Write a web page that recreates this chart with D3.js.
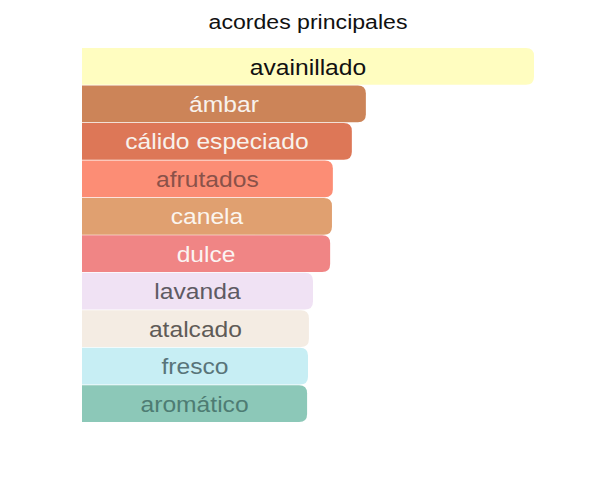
<!DOCTYPE html>
<html>
<head>
<meta charset="utf-8">
<script src="https://cdn.jsdelivr.net/npm/d3@7"></script>
<style>
  body { margin: 0; background: #fff; }
  svg { display: block; font-family: "Liberation Sans", Arial, sans-serif; }
</style>
</head>
<body>
<div id="chart"></div>
<script>
// acordes, de mayor a menor
var acordes = ["avainillado", "ámbar", "cálido especiado", "afrutados", "canela",
               "dulce", "lavanda", "atalcado", "fresco", "aromático"];
var valores = [100, 62.8, 59.7, 55.5, 55.3, 54.9, 51.1, 50.2, 50, 49.8];
var colores = ["#FFFDC0", "#CC8458", "#DD7757", "#FC8D75", "#E0A070",
               "#F08585", "#F0E2F4", "#F4ECE3", "#C7EEF4", "#8CC8B8"];
var coloresTexto = ["#111", "#f8f2ec", "#f8f2ec", "#8a5249", "#fbf5ee",
                    "#fbf4f2", "#5e5a63", "#5f5b57", "#587479", "#4e7c73"];

var w = 609, h = 483;
var stretch = 1.12; // el texto de la imagen está algo ensanchado

var svg = d3.select("#chart").append("svg")
    .attr("width", w)
    .attr("height", h);

var xScale = d3.scaleLinear().domain([0, 100]).range([82, 534]);
var yScale = d3.scaleBand().domain(acordes).range([48, 422]).paddingInner(0.02);

svg.append("text")
    .attr("transform", "translate(308,29) scale(1.1,1)")
    .attr("text-anchor", "middle")
    .attr("font-size", 21)
    .attr("fill", "#111")
    .text("acordes principales");

// barra con esquinas derechas redondeadas
function barPath(x0, x1, y0, bh, r) {
    return "M" + x0 + "," + y0 +
        "H" + (x1 - r) +
        "Q" + x1 + "," + y0 + " " + x1 + "," + (y0 + r) +
        "V" + (y0 + bh - r) +
        "Q" + x1 + "," + (y0 + bh) + " " + (x1 - r) + "," + (y0 + bh) +
        "H" + x0 + "Z";
}

var g = svg.selectAll("g.bar")
    .data(acordes)
    .enter()
    .append("g")
    .attr("class", "bar");

g.append("path")
    .attr("d", function(d, i) {
        return barPath(xScale(0), xScale(valores[i]), yScale(d), yScale.bandwidth(), 8);
    })
    .attr("fill", function(d, i) { return colores[i]; });

g.append("text")
    .attr("transform", function(d, i) {
        var cx = (xScale(0) + xScale(valores[i])) / 2;
        var cy = yScale(d) + yScale.bandwidth() / 2;
        return "translate(" + cx + "," + cy + ") scale(" + stretch + ",1)";
    })
    .attr("dy", "0.37em")
    .attr("text-anchor", "middle")
    .attr("font-size", 22)
    .attr("fill", function(d, i) { return coloresTexto[i]; })
    .text(function(d) { return d; });
</script>
</body>
</html>
